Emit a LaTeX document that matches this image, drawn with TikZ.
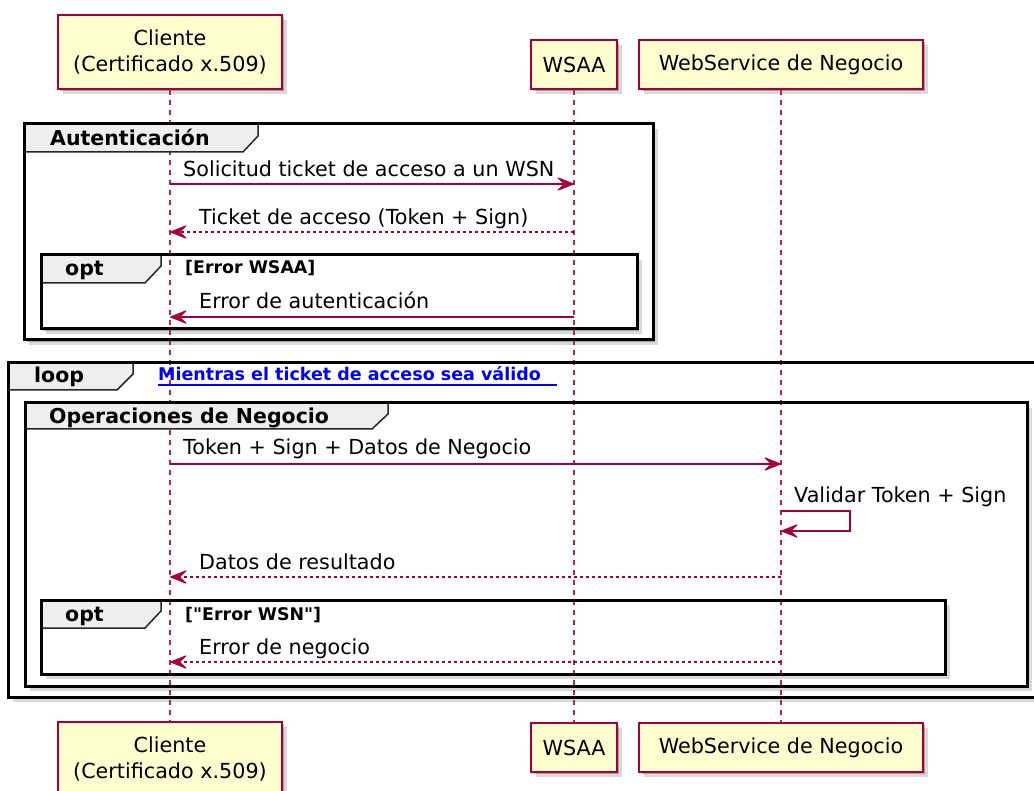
\documentclass[tikz,border=0pt]{standalone}
\usepackage{fontspec}
\setmainfont{DejaVu Sans}[Ligatures=TeXOff]
\usetikzlibrary{arrows.meta,shadows}
\definecolor{plum}{HTML}{A80036}
\definecolor{partfill}{HTML}{FEFECE}
\definecolor{tabfill}{HTML}{EEEEEE}
\definecolor{linkblue}{HTML}{0000FF}
\tikzset{
  softshadow/.style={drop shadow={shadow xshift=2pt,shadow yshift=-2pt,opacity=.25,fill=black},
                     drop shadow={shadow xshift=5pt,shadow yshift=-5pt,opacity=.15,fill=black}},
  part/.style={draw=plum, line width=1.6pt, fill=partfill, inner sep=0pt, align=center,
               font=\fontsize{20.7}{26}\selectfont, softshadow},
  lifeline/.style={draw=plum!85, line width=1.4pt, dash pattern=on 5pt off 5pt},
  framebg/.style={fill=white, softshadow},
  frameline/.style={draw=black, line width=3pt},
  tabshape/.style={draw=black!85, line width=1.5pt, fill=tabfill},
  msghead/.tip={Stealth[length=19pt,width=15pt,inset=8pt,line width=1pt,round]},
  msg/.style={draw=plum, line width=1.5pt, -msghead},
  ret/.style={msg, dash pattern=on 3pt off 3pt},
  mlabel/.style={anchor=base west, inner sep=0pt, font=\fontsize{20.7}{25}\selectfont},
  glabel/.style={anchor=base west, inner sep=0pt, font=\fontsize{20.5}{25}\selectfont\bfseries},
  cond/.style={anchor=base west, inner sep=0pt, font=\fontsize{17.4}{21}\selectfont\bfseries},
  linktext/.style={anchor=base west, inner sep=0pt, text=linkblue, font=\fontsize{17.5}{21}\selectfont\bfseries},
}
\begin{document}
\begin{tikzpicture}[x=1pt,y=-1pt]
\useasboundingbox (0,0) rectangle (1034,791);

% ---------- frame backgrounds (outer to inner) ----------
\path[framebg] (24,124) rectangle (653,340);
\path[framebg] (41,255) rectangle (637,329);
\path[framebg] (8,363) rectangle (1040,697);
\path[framebg] (25,403) rectangle (1027,686);
\path[framebg] (41,600) rectangle (945,674);

% ---------- participants ----------
\node[part, minimum width=224pt, minimum height=74pt] (cliT) at (170,52) {Cliente\\ (Certificado x.509)};
\node[part, minimum width=86pt, minimum height=49pt] (wsaaT) at (574,64.5) {WSAA};
\node[part, minimum width=284pt, minimum height=49pt] (wsnT) at (781,64.5) {WebService de Negocio};
\node[part, minimum width=224pt, minimum height=74pt] (cliB) at (170,759) {Cliente\\ (Certificado x.509)};
\node[part, minimum width=86pt, minimum height=49pt] (wsaaB) at (574,747.5) {WSAA};
\node[part, minimum width=284pt, minimum height=49pt] (wsnB) at (781,747.5) {WebService de Negocio};

% ---------- lifelines ----------
\draw[lifeline] (cliT.south) -- (cliB.north);
\draw[lifeline] (wsaaT.south) -- (wsaaB.north);
\draw[lifeline] (wsnT.south) -- (wsnB.north);

% ---------- tabs ----------
\draw[tabshape] (24,124) -- (258,124) -- (258,136) -- (243,152) -- (24,152) -- cycle;
\draw[tabshape] (41,255) -- (161,255) -- (161,266) -- (145,283) -- (41,283) -- cycle;
\draw[tabshape] (8,363) -- (133,363) -- (133,374) -- (117,390) -- (8,390) -- cycle;
\draw[tabshape] (25,403) -- (388,403) -- (388,414) -- (372,429) -- (25,429) -- cycle;
\draw[tabshape] (41,600) -- (161,600) -- (161,611) -- (145,628) -- (41,628) -- cycle;

% ---------- frame borders ----------
\draw[frameline] (24,124) rectangle (653,340);
\draw[frameline] (41,255) rectangle (637,329);
\draw[frameline] (8,363) rectangle (1040,697);
\draw[frameline] (25,403) rectangle (1027,686);
\draw[frameline] (41,600) rectangle (945,674);

% ---------- group labels ----------
\node[glabel] (gAuth) at (50,146) {Autenticación};
\node[glabel] (gOpt1) at (65,276) {opt};
\node[cond] (cOpt1) at (185,274) {[Error WSAA]};
\node[glabel] (gLoop) at (34,383) {loop};
\node[linktext] (cLoop) at (158,381) {Mientras el ticket de acceso sea válido};
\coordinate (ulA) at (158,385);
\coordinate (ulB) at (557,385);
\draw[linkblue, line width=1.2pt] (ulA) -- (ulB);
\node[glabel] (gOps) at (49,424) {Operaciones de Negocio};
\node[glabel] (gOpt2) at (65,621) {opt};
\node[cond] (cOpt2) at (185,620) {["Error WSN"]};

% ---------- messages ----------
\coordinate (m1a) at (170,184); \coordinate (m1b) at (574,184);
\draw[msg] (m1a) -- (m1b);
\node[mlabel] (l1) at (183,177) {Solicitud ticket de acceso a un WSN};

\coordinate (m2a) at (574,232); \coordinate (m2b) at (170,232);
\draw[ret] (m2a) -- (m2b);
\node[mlabel] (l2) at (199,225) {Ticket de acceso (Token + Sign)};

\coordinate (m3a) at (574,317); \coordinate (m3b) at (170,317);
\draw[msg] (m3a) -- (m3b);
\node[mlabel] (l3) at (199,309) {Error de autenticación};

\coordinate (m4a) at (170,464); \coordinate (m4b) at (781,464);
\draw[msg] (m4a) -- (m4b);
\node[mlabel] (l4) at (183,455) {Token + Sign + Datos de Negocio};

\coordinate (s1) at (781,511); \coordinate (s2) at (781,531);
\draw[msg] (s1) -- ++(69,0) -- ++(0,20) -- (s2);
\node[mlabel] (l5) at (794,502) {Validar Token + Sign};

\coordinate (m6a) at (781,577); \coordinate (m6b) at (170,577);
\draw[ret] (m6a) -- (m6b);
\node[mlabel] (l6) at (199,569) {Datos de resultado};

\coordinate (m7a) at (781,662); \coordinate (m7b) at (170,662);
\draw[ret] (m7a) -- (m7b);
\node[mlabel] (l7) at (199,654) {Error de negocio};
\end{tikzpicture}
\end{document}
